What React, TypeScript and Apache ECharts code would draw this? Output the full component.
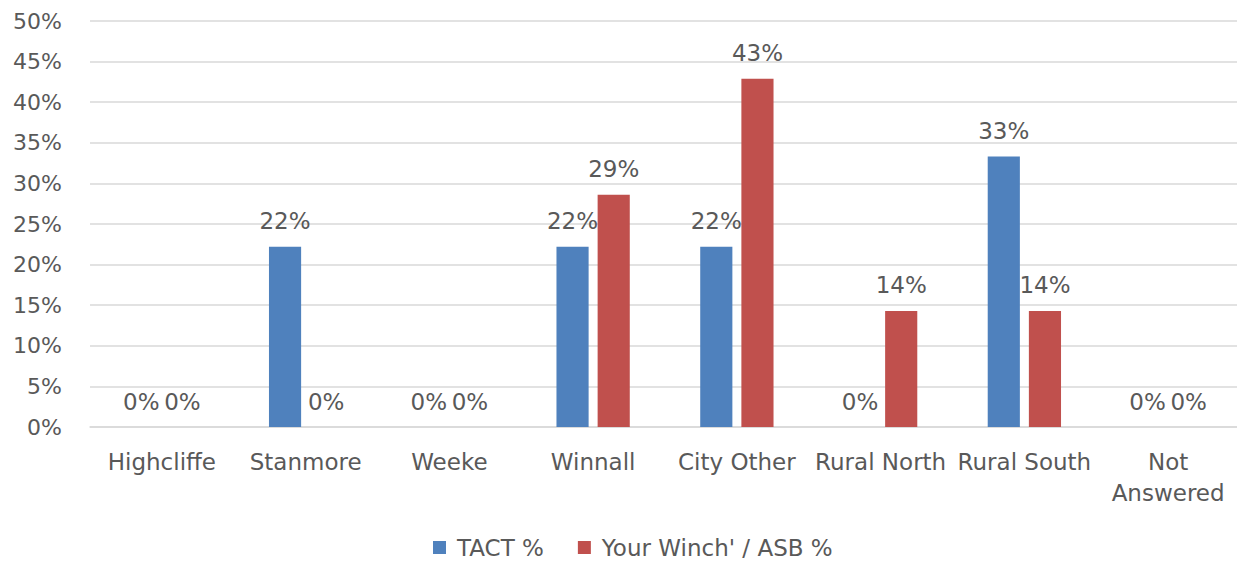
import React, { useEffect, useRef } from "react";
import * as echarts from "echarts";

const categories = ["Highcliffe", "Stanmore", "Weeke", "Winnall", "City Other", "Rural North", "Rural South", "Not\nAnswered"];
const tactValues = [0, 22.2, 0, 22.2, 22.2, 0, 33.3, 0];
const asbValues = [0, 0, 0, 28.6, 42.9, 14.3, 14.3, 0];
const seriesNames = ["TACT %", "Your Winch' / ASB %"];
const yTicks = { min: 0, max: 50, interval: 5 };

const FONT = "'DejaVu Sans', sans-serif";
const TEXT = "#595959";
const FS = 23;

export default function App() {
  const ref = useRef<HTMLDivElement>(null);
  useEffect(() => {
    if (!ref.current) return;
    const chart = echarts.init(ref.current, undefined, { renderer: "svg" });
    const label = {
      show: true,
      position: "top" as const,
      distance: 14,
      color: TEXT,
      fontSize: FS,
      fontFamily: FONT,
      formatter: (p: any) => Math.round(p.value) + "%",
    };
    chart.setOption({
      animation: false,
      textStyle: { fontFamily: FONT },
      grid: { left: 90, right: 5, top: 21, bottom: 141, containLabel: false },
      legend: {
        bottom: 4,
        left: 428,
        itemWidth: 13,
        itemHeight: 13,
        itemGap: 34,
        icon: "rect",
        textStyle: { color: TEXT, fontSize: FS, fontFamily: FONT, padding: [0, 0, 0, 6] },
        data: seriesNames,
      },
      xAxis: {
        type: "category",
        data: categories,
        axisLine: { show: true, lineStyle: { color: "#d9d9d9", width: 1.5 } },
        axisTick: { show: false },
        axisLabel: { color: TEXT, fontSize: FS, fontFamily: FONT, margin: 19, lineHeight: 31, interval: 0 },
      },
      yAxis: {
        type: "value",
        min: yTicks.min,
        max: yTicks.max,
        interval: yTicks.interval,
        axisLine: { show: false },
        axisTick: { show: false },
        axisLabel: { color: TEXT, fontSize: 22, fontFamily: FONT, margin: 28, formatter: (v: number) => v + "%" },
        splitLine: { lineStyle: { color: "#d9d9d9", width: 1.5 } },
      },
      series: [
        {
          name: seriesNames[0],
          type: "bar",
          data: tactValues,
          itemStyle: { color: "#4F81BD" },
          barGap: "28%",
          barCategoryGap: "49%",
          label,
        },
        {
          name: seriesNames[1],
          type: "bar",
          data: asbValues,
          itemStyle: { color: "#C0504D" },
          barGap: "28%",
          barCategoryGap: "49%",
          label,
        },
      ],
    });
    return () => chart.dispose();
  }, []);
  return <div ref={ref} style={{ width: 1245, height: 568, margin: -8 }} />;
}
